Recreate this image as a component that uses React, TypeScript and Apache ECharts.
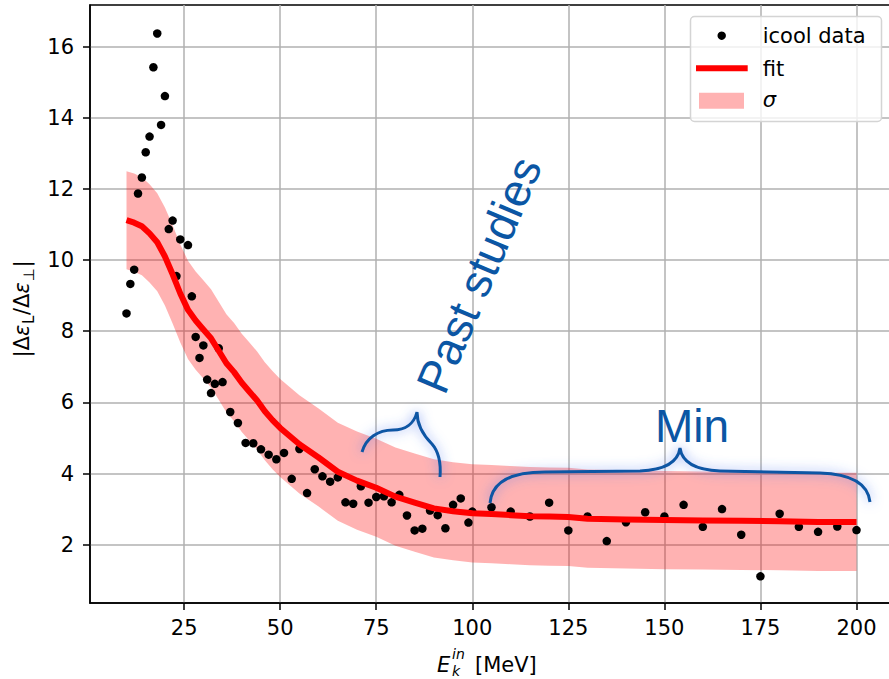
import React, { useEffect, useRef } from 'react';
import * as echarts from 'echarts';

// ---- icool data (E_k^in [MeV], |Δε_L/Δε_⊥|) ----
const dataX = [
  10, 11, 12, 13, 14, 15, 16, 17, 18, 19, 20, 21, 22, 23, 24, 26, 27, 28, 29, 30,
  31, 32, 33, 34, 35, 37, 39, 41, 43, 45, 47, 49, 51, 53, 55, 57, 59, 61, 63, 65,
  67, 69, 71, 73, 75, 77, 79, 81, 83, 85, 87, 89, 91, 93, 95, 97, 99, 100,
  105, 110, 115, 120, 125, 130, 135, 140, 145, 150, 155, 160, 165, 170, 175, 180, 185, 190, 195, 200,
];
const dataY = [
  8.50, 9.33, 9.73, 11.87, 12.32, 13.03, 13.47, 15.42, 16.37, 13.80, 14.61, 10.87, 11.11, 9.55, 10.58, 10.42, 8.98, 7.84, 7.25, 7.60,
  6.64, 6.26, 6.52, 7.52, 6.57, 5.73, 5.42, 4.86, 4.85, 4.68, 4.53, 4.40, 4.58, 3.85, 4.69, 3.45, 4.12, 3.92, 3.77, 3.89,
  3.19, 3.15, 3.64, 3.18, 3.34, 3.36, 3.19, 3.40, 2.82, 2.40, 2.45, 2.96, 2.83, 2.46, 3.12, 3.30, 2.62, 2.93,
  3.05, 2.93, 2.79, 3.18, 2.40, 2.79, 2.10, 2.63, 2.91, 2.79, 3.12, 2.50, 3.00, 2.28, 1.11, 2.87, 2.50, 2.36, 2.51, 2.41,
];

// ---- fit and sigma band ----
const fitX = [
  10, 12, 14, 16, 18, 20, 22, 24, 26, 28, 30, 32, 34, 36, 38, 40, 42, 44, 46, 48, 50,
  55, 60, 65, 70, 75, 80, 85, 90, 95, 100, 105, 110, 115, 120, 125, 130, 140, 150, 160, 170, 180, 190, 200,
];
const fitY = [
  11.12, 11.05, 10.95, 10.75, 10.50, 10.10, 9.60, 9.06, 8.60, 8.30, 8.05, 7.80, 7.45, 7.10, 6.85, 6.55, 6.30, 6.05, 5.75, 5.50, 5.28,
  4.82, 4.45, 4.05, 3.80, 3.60, 3.35, 3.18, 3.02, 2.94, 2.88, 2.86, 2.83, 2.80, 2.79, 2.78, 2.73, 2.71, 2.69, 2.68, 2.67, 2.66, 2.64, 2.64,
];
const bandUpper = [
  12.50, 12.43, 12.33, 12.13, 11.88, 11.48, 10.98, 10.44, 9.98, 9.68, 9.43, 9.18, 8.83, 8.48, 8.23, 7.93, 7.68, 7.43, 7.13, 6.88, 6.66,
  6.20, 5.83, 5.43, 5.18, 4.98, 4.73, 4.56, 4.40, 4.32, 4.26, 4.24, 4.21, 4.18, 4.17, 4.16, 4.11, 4.09, 4.07, 4.06, 4.05, 4.04, 4.02, 4.02,
];
const bandLower = [
  9.74, 9.67, 9.57, 9.37, 9.12, 8.72, 8.22, 7.68, 7.22, 6.92, 6.67, 6.42, 6.07, 5.72, 5.47, 5.17, 4.92, 4.67, 4.37, 4.12, 3.90,
  3.44, 3.07, 2.67, 2.42, 2.22, 1.97, 1.80, 1.64, 1.56, 1.50, 1.48, 1.45, 1.42, 1.41, 1.40, 1.35, 1.33, 1.31, 1.30, 1.29, 1.28, 1.26, 1.26,
];

const xTicks = [25, 50, 75, 100, 125, 150, 175, 200];
const yTicks = [2, 4, 6, 8, 10, 12, 14, 16];

const FONT = "'DejaVu Sans', sans-serif";
const ANN_FONT = "'Liberation Sans', Arial, sans-serif";
const BLUE = '#0b56a4';
const GLOW = 'rgba(80,120,240,0.75)';

const braceMinPath =
  'M 490 503 C 492 482 510 472 545 472 L 640 471 C 665 470 678 462 680 448 C 682 462 695 470 720 471 L 820 473 C 852 474 868 484 870 502';
const bracePastPath =
  'M 362 452 C 366 438 378 430 393 430 C 405 430 414 424 417 412 C 417 425 424 436 432 444 C 439 452 441 464 440 477';

let shapesRegistered = false;
function registerShapes() {
  if (shapesRegistered) return;
  echarts.graphic.registerShape('braceMin', echarts.graphic.extendPath(braceMinPath, {}));
  echarts.graphic.registerShape('bracePast', echarts.graphic.extendPath(bracePastPath, {}));
  shapesRegistered = true;
}

function txt(text: string, x: number, y: number, opts: any = {}) {
  return {
    type: 'text',
    x,
    y,
    z: 100,
    silent: true,
    style: {
      text,
      fill: '#000',
      fontFamily: FONT,
      fontSize: 21,
      align: 'left',
      verticalAlign: 'middle',
      ...opts,
    },
  };
}

export default function App() {
  const ref = useRef<HTMLDivElement>(null);

  useEffect(() => {
    if (!ref.current) return;
    registerShapes();
    const chart = echarts.init(ref.current, null, { renderer: 'svg' });

    const scatterData = dataX.map((x, i) => [x, dataY[i]]);
    const fitData = fitX.map((x, i) => [x, fitY[i]]);
    const bandData = fitX.map((x, i) => [x, bandLower[i], bandUpper[i]]);

    const option: any = {
      animation: false,
      backgroundColor: '#fff',
      grid: {
        left: 90,
        top: 5,
        right: 2,
        bottom: 76,
        show: true,
        borderColor: '#000',
        borderWidth: 1.5,
        backgroundColor: 'transparent',
      },
      xAxis: {
        type: 'value',
        min: 0.5,
        max: 209.5,
        axisLine: { show: true, lineStyle: { color: '#000', width: 1.5 } },
        axisTick: { show: true, length: 7, inside: false, customValues: xTicks, lineStyle: { color: '#000', width: 1.5 } },
        axisLabel: { customValues: xTicks, color: '#000', fontSize: 21, fontFamily: FONT, margin: 14 },
        splitLine: { show: true, lineStyle: { color: '#b0b0b0', width: 1.5 } },
      },
      yAxis: {
        type: 'value',
        min: 0.36,
        max: 17.17,
        axisLine: { show: true, lineStyle: { color: '#000', width: 1.5 } },
        axisTick: { show: true, length: 7, inside: false, customValues: yTicks, lineStyle: { color: '#000', width: 1.5 } },
        axisLabel: { customValues: yTicks, color: '#000', fontSize: 21, fontFamily: FONT, margin: 16 },
        splitLine: { show: true, lineStyle: { color: '#b0b0b0', width: 1.5 } },
      },
      series: [
        {
          name: 'σ',
          type: 'custom',
          z: 1,
          silent: true,
          data: bandData,
          encode: { x: 0, y: [1, 2] },
          renderItem: (params: any, api: any) => {
            if (params.dataIndex !== 0) return null;
            const pts: number[][] = [];
            for (let i = 0; i < fitX.length; i++) pts.push(api.coord([fitX[i], bandUpper[i]]));
            for (let i = fitX.length - 1; i >= 0; i--) pts.push(api.coord([fitX[i], bandLower[i]]));
            return {
              type: 'polygon',
              shape: { points: pts },
              style: { fill: 'rgba(255,0,0,0.3)', stroke: 'none' },
            };
          },
        },
        {
          name: 'icool data',
          type: 'scatter',
          z: 2,
          symbol: 'circle',
          symbolSize: 8.5,
          itemStyle: { color: '#000', opacity: 1 },
          data: scatterData,
        },
        {
          name: 'fit',
          type: 'line',
          z: 3,
          showSymbol: false,
          symbol: 'none',
          lineStyle: { color: '#ff0000', width: 6, join: 'round', cap: 'butt', opacity: 1 },
          data: fitData,
        },
      ],
      graphic: [
        // annotations
        {
          type: 'bracePast',
          x: 0,
          y: 0,
          z: 100,
          silent: true,
          style: { fill: 'none', stroke: BLUE, lineWidth: 3, shadowBlur: 12, shadowColor: GLOW },
        },
        {
          type: 'braceMin',
          x: 0,
          y: 0,
          z: 100,
          silent: true,
          style: { fill: 'none', stroke: BLUE, lineWidth: 3, shadowBlur: 12, shadowColor: GLOW },
        },
        {
          type: 'text',
          x: 479,
          y: 275,
          rotation: (67 * Math.PI) / 180,
          z: 100,
          silent: true,
          style: {
            text: 'Past studies',
            fill: BLUE,
            fontFamily: ANN_FONT,
            fontSize: 46,
            align: 'center',
            verticalAlign: 'middle',
          },
        },
        {
          type: 'text',
          x: 692,
          y: 426,
          z: 100,
          silent: true,
          style: {
            text: 'Min',
            fill: BLUE,
            fontFamily: ANN_FONT,
            fontSize: 46,
            align: 'center',
            verticalAlign: 'middle',
          },
        },
        // legend
        {
          type: 'rect',
          z: 110,
          silent: true,
          shape: { x: 690.5, y: 16.5, width: 191, height: 105, r: 4 },
          style: { fill: 'rgba(255,255,255,0.8)', stroke: '#d4d4d4', lineWidth: 1.5 },
        },
        {
          type: 'circle',
          z: 111,
          silent: true,
          shape: { cx: 721.7, cy: 35.7, r: 4.2 },
          style: { fill: '#000' },
        },
        {
          type: 'line',
          z: 111,
          silent: true,
          shape: { x1: 696, y1: 68.3, x2: 747.7, y2: 68.3 },
          style: { stroke: '#ff0000', lineWidth: 6 },
        },
        {
          type: 'rect',
          z: 111,
          silent: true,
          shape: { x: 699, y: 92.7, width: 45, height: 16 },
          style: { fill: 'rgba(255,0,0,0.3)' },
        },
        { ...txt('icool data', 762.7, 35.5), z: 112 },
        { ...txt('fit', 762.7, 69), z: 112 },
        { ...txt('σ', 762.7, 100, { fontStyle: 'italic' }), z: 112 },
        // x-axis label: E_k^in [MeV]
        txt('E', 437, 664.5, { fontStyle: 'italic' }),
        txt('in', 452, 654, { fontStyle: 'italic', fontSize: 14 }),
        txt('k', 452, 670.8, { fontStyle: 'italic', fontSize: 14 }),
        txt('[MeV]', 475, 664.5),
        // y-axis label: |Δε_L/Δε_⊥|
        {
          type: 'group',
          x: 29,
          y: 309,
          rotation: Math.PI / 2,
          silent: true,
          children: [
            txt('|Δ', -48.5, -7.3),
            txt('ε', -27.1, -7.3, { fontStyle: 'italic' }),
            txt('L', -15, -0.5, { fontSize: 15 }),
            txt('/Δ', -6, -7.3),
            txt('ε', 15.4, -7.3, { fontStyle: 'italic' }),
            txt('⊥', 27.5, -0.5, { fontSize: 15 }),
            txt('|', 41.5, -7.3),
          ],
        },
      ],
    };

    chart.setOption(option);
    return () => {
      chart.dispose();
    };
  }, []);

  return (
    <div
      ref={ref}
      style={{ position: 'fixed', left: 0, top: 0, width: 895, height: 679, background: '#fff' }}
    />
  );
}
